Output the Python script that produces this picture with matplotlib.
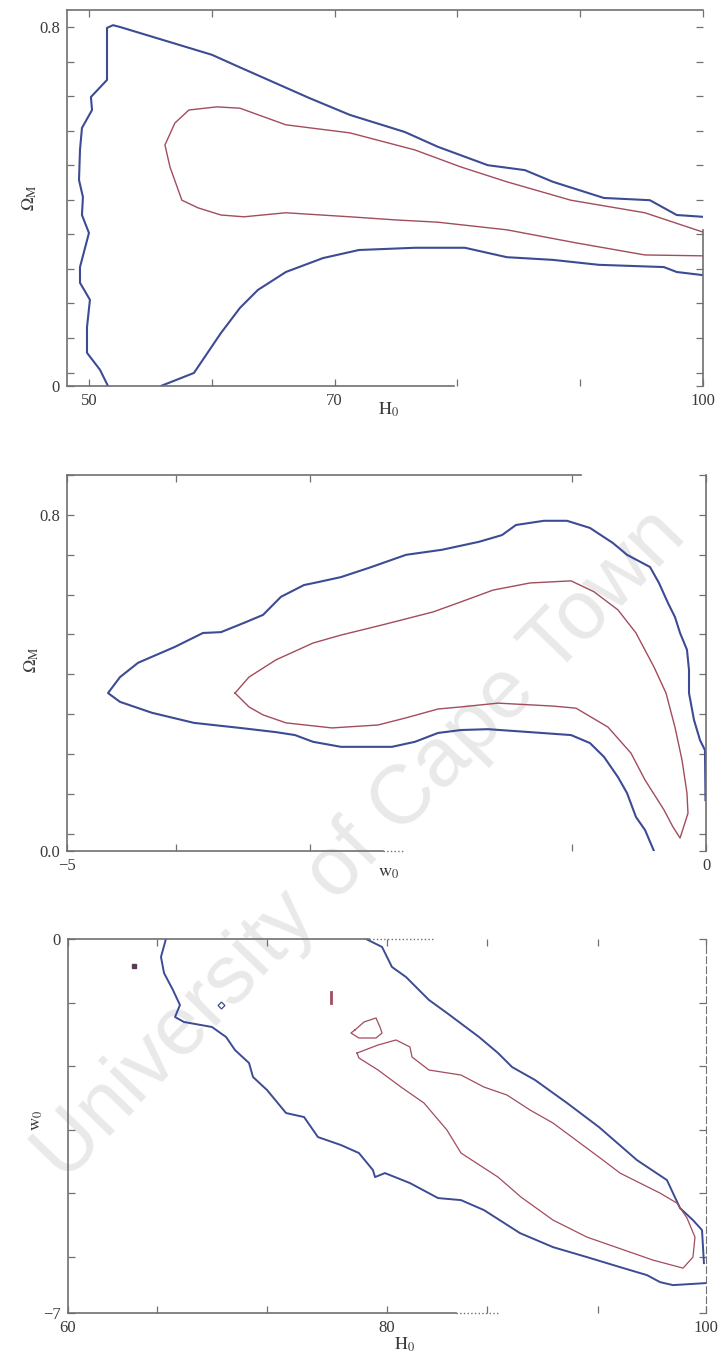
import numpy as np
import matplotlib.pyplot as plt

plt.rcParams['font.family'] = ['Liberation Serif', 'DejaVu Serif']
plt.rcParams['mathtext.fontset'] = 'stix'

BLUE = '#3d4b94'
RED = '#a24c5c'
AXIS = '#707070'
TEXT = '#3a3a3a'

# ---- H0 vs Omega_M ----
p1_outer_h0 = [51.54, 50.89, 49.83, 49.83, 50.07, 49.26, 49.26, 49.99, 49.42, 49.50, 49.18,
               49.26, 49.42, 50.24, 50.15, 51.46, 51.46, 51.95, 52.52, 60.01, 61.88, 67.91,
               71.25, 75.72, 78.41, 82.48, 85.50, 87.78, 91.93, 95.68, 97.87, 100.0]
p1_outer_om = [0.0, 0.036, 0.074, 0.131, 0.192, 0.230, 0.265, 0.341, 0.381, 0.421, 0.459,
               0.526, 0.575, 0.615, 0.644, 0.682, 0.798, 0.804, 0.800, 0.738, 0.715, 0.642,
               0.604, 0.566, 0.533, 0.492, 0.481, 0.455, 0.419, 0.414, 0.381, 0.377]
p1_lower_h0 = [55.85, 58.54, 60.74, 62.29, 63.75, 66.03, 69.05, 71.98, 76.54, 80.61, 84.03,
               87.78, 91.52, 96.82, 97.87, 100.0]
p1_lower_om = [0.0, 0.029, 0.118, 0.174, 0.214, 0.254, 0.285, 0.303, 0.308, 0.308, 0.287,
               0.281, 0.270, 0.265, 0.254, 0.247]
p1_inner_h0 = [100.0, 95.27, 89.24, 84.03, 80.29, 76.54, 71.25, 66.03, 62.29, 60.41, 58.13,
               56.99, 56.18, 56.59, 57.56, 58.87, 60.74, 62.61, 66.03, 71.25, 74.99, 78.41,
               84.03, 89.65, 95.27, 100.0]
p1_inner_om = [0.343, 0.386, 0.414, 0.455, 0.488, 0.526, 0.564, 0.582, 0.619, 0.622, 0.615,
               0.586, 0.537, 0.488, 0.414, 0.397, 0.381, 0.377, 0.386, 0.377, 0.370, 0.365,
               0.348, 0.319, 0.292, 0.290]

# ---- w0 vs Omega_M ----
p2_outer_w0 = [-0.407, -0.477, -0.548, -0.618, -0.689, -0.798, -0.908, -1.056, -1.377, -1.706,
               -1.917, -2.097, -2.277, -2.457, -2.856, -3.075, -3.216, -3.365, -3.646, -4.006,
               -4.335, -4.585, -4.679, -4.585, -4.444, -4.155, -3.936, -3.795, -3.615, -3.466,
               -3.326, -3.146, -3.036, -2.856, -2.637, -2.347, -2.066, -1.776, -1.596, -1.487,
               -1.268, -1.088, -0.908, -0.728, -0.618, -0.438, -0.368, -0.297, -0.243, -0.203,
               -0.149, -0.133, -0.133, -0.094, -0.047, -0.008, -0.004]
p2_outer_om = [0.0, 0.050, 0.081, 0.138, 0.176, 0.224, 0.257, 0.276, 0.283, 0.290,
               0.288, 0.281, 0.260, 0.248, 0.248, 0.260, 0.276, 0.283, 0.293, 0.305,
               0.329, 0.355, 0.376, 0.414, 0.448, 0.486, 0.519, 0.521, 0.543, 0.562,
               0.605, 0.633, 0.640, 0.652, 0.674, 0.705, 0.717, 0.736, 0.752, 0.776,
               0.786, 0.786, 0.769, 0.733, 0.705, 0.676, 0.638, 0.590, 0.557, 0.519,
               0.479, 0.431, 0.376, 0.312, 0.264, 0.240, 0.121]
p2_inner_w0 = [-3.685, -3.576, -3.365, -3.075, -2.856, -2.535, -2.136, -1.917, -1.667, -1.377,
               -1.056, -0.876, -0.689, -0.548, -0.407, -0.313, -0.243, -0.188, -0.149, -0.141,
               -0.203, -0.258, -0.329, -0.477, -0.587, -0.767, -1.017, -1.197, -1.628, -1.917,
               -2.097, -2.347, -2.566, -2.926, -3.286, -3.466, -3.576, -3.685]
p2_inner_om = [0.376, 0.414, 0.455, 0.495, 0.514, 0.538, 0.569, 0.593, 0.621, 0.638,
               0.643, 0.617, 0.574, 0.519, 0.438, 0.376, 0.295, 0.217, 0.138, 0.090,
               0.031, 0.057, 0.098, 0.169, 0.233, 0.295, 0.340, 0.345, 0.352, 0.343,
               0.338, 0.317, 0.300, 0.293, 0.305, 0.324, 0.343, 0.376]

# ---- H0 vs w0 ----
p3_upper_h0 = [78.68, 79.69, 80.31, 81.19, 82.63, 83.76, 85.77, 86.96, 87.84, 89.28, 91.29,
               93.29, 95.67, 97.55, 98.37, 99.18, 99.75, 99.87]
p3_upper_w0 = [0.0, -0.150, -0.524, -0.712, -1.142, -1.386, -1.835, -2.135, -2.397, -2.640,
               -3.071, -3.521, -4.139, -4.513, -5.037, -5.262, -5.449, -6.067]
p3_lower_h0 = [66.14, 65.83, 66.02, 66.58, 67.02, 66.71, 67.27, 69.03, 69.91, 70.47, 71.35,
               71.60, 72.48, 73.67, 74.80, 75.67, 77.12, 78.24, 79.12, 79.25, 79.87, 81.44,
               83.20, 84.64, 86.08, 88.34, 90.41, 92.54, 94.61, 96.30, 97.12, 97.93, 99.94]
p3_lower_w0 = [0.0, -0.337, -0.637, -0.955, -1.236, -1.461, -1.554, -1.648, -1.835, -2.079,
               -2.322, -2.584, -2.828, -3.258, -3.333, -3.708, -3.858, -4.007, -4.326, -4.457,
               -4.382, -4.569, -4.850, -4.888, -5.075, -5.506, -5.768, -5.955, -6.142, -6.292,
               -6.423, -6.479, -6.442]
p3_inner_h0 = [78.12, 79.44, 80.56, 81.44, 81.57, 82.63, 84.64, 86.08, 87.52, 88.97, 90.41,
               93.54, 94.61, 97.12, 98.18, 98.81, 99.31, 99.18, 98.56, 96.68, 92.54, 90.41,
               88.40, 86.96, 84.64, 83.76, 82.32, 80.88, 79.44, 78.24, 78.12]
p3_inner_w0 = [-2.135, -1.985, -1.891, -2.022, -2.210, -2.453, -2.547, -2.772, -2.921, -3.202,
               -3.446, -4.139, -4.382, -4.757, -4.944, -5.225, -5.581, -5.955, -6.161, -6.011,
               -5.581, -5.262, -4.831, -4.457, -4.007, -3.577, -3.071, -2.772, -2.453, -2.228,
               -2.135]
p3_island_h0 = [77.99, 78.56, 79.31, 79.56, 79.69, 79.31, 78.24, 77.74, 77.99]
p3_island_w0 = [-1.704, -1.554, -1.479, -1.648, -1.760, -1.854, -1.854, -1.760, -1.704]
p3_bar_h0 = [76.49, 76.49]
p3_bar_w0 = [-0.99, -1.20]
p3_speck_h0, p3_speck_w0 = 69.59, -1.236
p3_dot_h0, p3_dot_w0 = 64.14, -0.506


def frame(ax, xticks, xlabels, yticks, ylabels):
    ax.set_facecolor('none')
    ax.set_xticks(xticks, labels=xlabels)
    ax.set_yticks(yticks, labels=ylabels)
    ax.tick_params(direction='in', length=5, width=0.9, color=AXIS, labelcolor=TEXT,
                   labelsize=12, top=True, right=True, pad=5)
    for s in ax.spines.values():
        s.set_color(AXIS)
        s.set_linewidth(1.2)


fig = plt.figure(figsize=(7.21, 13.61), dpi=100)
fig.text(0.5, 0.379, 'University of Cape Town', rotation=46, fontsize=60,
         family='Liberation Sans', color='#e9e9e9', ha='center', va='center', zorder=-5)

# panel 1
ax1 = fig.add_axes([0.0929, 0.7164, 0.882, 0.2763])
ax1.plot(p1_outer_h0, p1_outer_om, color=BLUE, lw=1.5)
ax1.plot(p1_lower_h0, p1_lower_om, color=BLUE, lw=1.5)
ax1.plot(p1_inner_h0, p1_inner_om, color=RED, lw=1.0)
ax1.set_xlim(48.2, 100)
ax1.set_ylim(0, 0.838)
om_ticks = [0.8 - 0.077 * k for k in range(11)] + [0.0]
frame(ax1, [50, 60, 70, 80, 90, 100], ['50', '', '70', '', '', '100'],
      om_ticks, ['0.8'] + [''] * 10 + ['0'])
ax1.spines['bottom'].set_bounds(48.2, 79.7)
ax1.spines['right'].set_bounds(0, 0.348)
ax1.text(0.506, -0.064, r'$\mathrm{H}_0$', transform=ax1.transAxes, ha='center',
         va='center', fontsize=13, color=TEXT)
ax1.text(-0.058, 0.5, r'$\Omega_\mathrm{M}$', transform=ax1.transAxes, ha='center',
         va='center', fontsize=13, color=TEXT, rotation=90)

# panel 2
ax2 = fig.add_axes([0.0929, 0.3747, 0.8863, 0.2763])
ax2.plot(p2_outer_w0, p2_outer_om, color=BLUE, lw=1.5)
ax2.plot(p2_inner_w0, p2_inner_om, color=RED, lw=1.0)
ax2.set_xlim(-5, 0)
ax2.set_ylim(0, 0.895)
om2_ticks = [0.8 - 0.0948 * k for k in range(-1, 9)] + [0.0]
frame(ax2, [-5, -4.15, -3.1, -1.05, 0], ['\u22125', '', '', '', '0'],
      om2_ticks, ['', '0.8'] + [''] * 8 + ['0.0'])
ax2.spines['top'].set_bounds(-5, -0.98)
ax2.spines['bottom'].set_bounds(-5, -2.53)
ax2.plot([-2.53, -2.36], [0, 0], color=AXIS, lw=1.0, ls=':', clip_on=False)
ax2.text(0.504, -0.056, r'$\mathrm{w}_0$', transform=ax2.transAxes, ha='center',
         va='center', fontsize=13, color=TEXT)
ax2.text(-0.055, 0.508, r'$\Omega_\mathrm{M}$', transform=ax2.transAxes, ha='center',
         va='center', fontsize=13, color=TEXT, rotation=90)

# panel 3
ax3 = fig.add_axes([0.0943, 0.0353, 0.8849, 0.2748])
ax3.plot(p3_upper_h0, p3_upper_w0, color=BLUE, lw=1.4)
ax3.plot(p3_lower_h0, p3_lower_w0, color=BLUE, lw=1.4)
ax3.plot(p3_inner_h0, p3_inner_w0, color=RED, lw=0.9)
ax3.plot(p3_island_h0, p3_island_w0, color=RED, lw=0.9)
ax3.plot(p3_bar_h0, p3_bar_w0, color=RED, lw=2.0)
ax3.plot(p3_speck_h0, p3_speck_w0, marker='D', ms=3.5, mfc='none', mec=BLUE, mew=0.9)
ax3.plot(p3_dot_h0, p3_dot_w0, marker='s', ms=2.5, color='#5a3a58')
ax3.set_xlim(60, 100)
ax3.set_ylim(-7, 0)
w_ticks = [-1.19 * k for k in range(6)] + [-7.0]
frame(ax3, [60, 65.6, 72.5, 80, 86.3, 93.2, 100], ['60', '', '', '80', '', '', '100'],
      w_ticks, ['0'] + [''] * 5 + ['\u22127'])
ax3.spines['top'].set_bounds(60, 78.9)
ax3.plot([78.9, 82.9], [0, 0], color=AXIS, lw=1.0, ls=':', clip_on=False)
ax3.spines['bottom'].set_bounds(60, 84.3)
ax3.plot([84.3, 87.0], [-7, -7], color=AXIS, lw=1.0, ls=':', clip_on=False)
ax3.spines['right'].set_linestyle((0, (6, 3)))
ax3.spines['right'].set_linewidth(0.8)
ax3.text(0.528, -0.086, r'$\mathrm{H}_0$', transform=ax3.transAxes, ha='center',
         va='center', fontsize=13, color=TEXT)
ax3.text(-0.049, 0.516, r'$\mathrm{w}_0$', transform=ax3.transAxes, ha='center',
         va='center', fontsize=13, color=TEXT, rotation=90)

fig.savefig('out.png', dpi=100)
